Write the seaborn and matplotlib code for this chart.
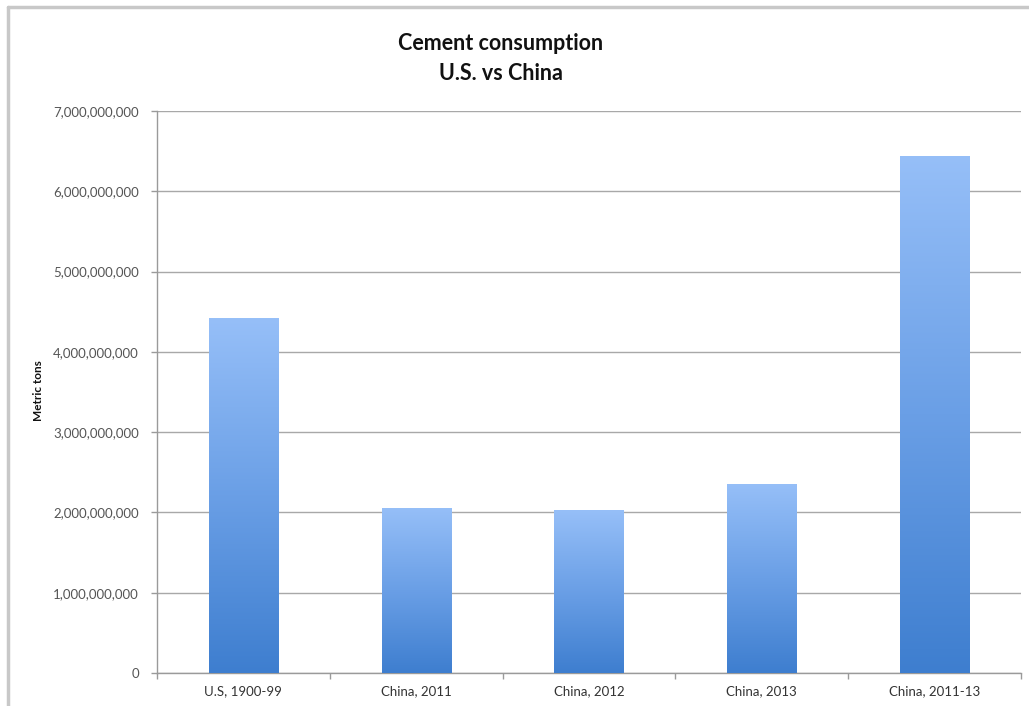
import numpy as np
import pandas as pd
import matplotlib
matplotlib.use("Agg")
import matplotlib.pyplot as plt
from matplotlib.colors import LinearSegmentedColormap
from matplotlib.ticker import FuncFormatter, MultipleLocator
import seaborn as sns

categories = ["U.S, 1900-99", "China, 2011", "China, 2012", "China, 2013", "China, 2011-13"]
consumption = [4.42e9, 2.06e9, 2.03e9, 2.36e9, 6.44e9]
title_lines = ["Cement consumption", "U.S. vs China"]
y_label = "Metric tons"

sns.set_theme(style="white")
plt.rcParams["font.family"] = ["Lato", "DejaVu Sans"]

df = pd.DataFrame({"category": categories, "tons": consumption})

fig = plt.figure(figsize=(10.29, 7.06), dpi=100)
fig.patch.set_facecolor("white")
ax = fig.add_axes([157/1029, 1 - 673/706, (1021-157)/1029, (673-111)/706])

sns.barplot(data=df, x="category", y="tons", color="#6A9FE6", width=0.4,
            ax=ax, saturation=1, zorder=3)

cmap = LinearSegmentedColormap.from_list("bar", ["#3E7ECF", "#6A9FE6", "#96BFF8"])
grad = np.linspace(0, 1, 256).reshape(-1, 1)
for p in ax.patches:
    x0, y0 = p.get_x(), p.get_y()
    w, h = p.get_width(), p.get_height()
    p.set_edgecolor("none")
    im = ax.imshow(grad, cmap=cmap, origin="lower", aspect="auto",
                   extent=[x0, x0 + w, y0, y0 + h], zorder=4)
    im.set_clip_path(p)

ax.set_xlim(-0.5, len(categories) - 0.5)
ax.set_ylim(0, 7e9)
ax.yaxis.set_major_locator(MultipleLocator(1e9))
ax.yaxis.set_major_formatter(FuncFormatter(lambda v, pos: f"{int(round(v)):,}"))

ax.grid(axis="y", color="#A8A8A8", linewidth=1.0, zorder=0)
ax.grid(axis="x", visible=False)
for s in ["top", "right"]:
    ax.spines[s].set_visible(False)
for s in ["left", "bottom"]:
    ax.spines[s].set_visible(True)
    ax.spines[s].set_color("#9A9A9A")
    ax.spines[s].set_linewidth(1.0)

ax.set_xticks(np.arange(-0.5, len(categories)), minor=True)
ax.tick_params(axis="x", which="minor", direction="out", length=4, color="#9A9A9A", width=1, bottom=True)
ax.tick_params(axis="x", which="major", length=0, pad=9, labelsize=9.5, labelcolor="#333333")
ax.tick_params(axis="y", which="major", direction="out", length=4, color="#9A9A9A", width=1,
               left=True, pad=9, labelsize=9.5, labelcolor="#555555")

ax.set_xlabel("")
ax.set_ylabel("")
fig.text(39/1029, 1 - 391/706, y_label, rotation=90, ha="center", va="center",
         fontsize=8.5, fontweight="bold", color="#111111")

fig.text(501/1029, 1 - 43/706, title_lines[0], ha="center", va="center",
         fontsize=15.5, fontweight="bold", color="#111111")
fig.text(501/1029, 1 - 74/706, title_lines[1], ha="center", va="center",
         fontsize=15.5, fontweight="bold", color="#111111")

# outer frame lines (top and left)
fig.add_artist(plt.Line2D([8/1029, 1.0], [1 - 7/706, 1 - 7/706], color="#C8C8C8", linewidth=2.5,
                          transform=fig.transFigure))
fig.add_artist(plt.Line2D([8/1029, 8/1029], [0.0, 1 - 7/706], color="#C8C8C8", linewidth=2.5,
                          transform=fig.transFigure))

fig.savefig("out.png", dpi=100, facecolor="white")
